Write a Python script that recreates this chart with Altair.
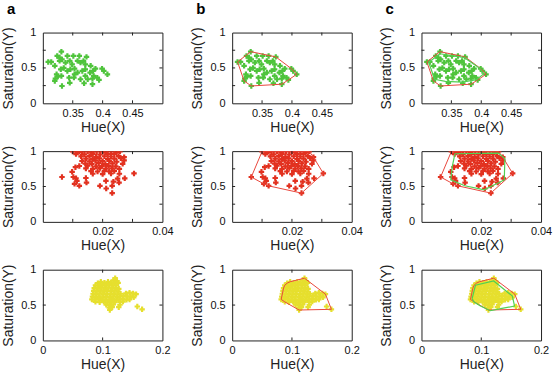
import altair as alt
import pandas as pd

# ---------------- data ----------------
green_hue = [0.331, 0.309, 0.314, 0.320, 0.324, 0.328, 0.328, 0.332, 0.341, 0.351, 0.361, 0.373,
             0.338, 0.345, 0.349, 0.358, 0.363, 0.368, 0.371, 0.380, 0.388, 0.330, 0.335, 0.341,
             0.346, 0.353, 0.358, 0.366, 0.371, 0.379, 0.384, 0.399, 0.402, 0.408, 0.323, 0.325,
             0.320, 0.321, 0.331, 0.332, 0.344, 0.345, 0.352, 0.353, 0.363, 0.369, 0.371, 0.375,
             0.383, 0.385, 0.394, 0.391, 0.383]
green_sat = [0.73, 0.585, 0.585, 0.53, 0.67, 0.646, 0.60, 0.62, 0.67, 0.67, 0.67, 0.656,
             0.575, 0.60, 0.55, 0.60, 0.575, 0.60, 0.55, 0.53, 0.49, 0.48, 0.50, 0.458,
             0.48, 0.49, 0.434, 0.458, 0.48, 0.434, 0.458, 0.49, 0.458, 0.41, 0.41, 0.377,
             0.316, 0.35, 0.387, 0.245, 0.363, 0.29, 0.363, 0.41, 0.34, 0.283, 0.387, 0.34,
             0.35, 0.387, 0.33, 0.363, 0.27]

red_hue = [0.0100, 0.0113, 0.0122, 0.0131, 0.0150, 0.0164, 0.0180, 0.0200, 0.0209, 0.0228, 0.0247, 0.0258,
           0.0111, 0.0139, 0.0167, 0.0191, 0.0217, 0.0239,
           0.0128, 0.0156, 0.0178, 0.0206, 0.0228, 0.0253, 0.0272,
           0.0144, 0.0167, 0.0189, 0.0217, 0.0239, 0.0261,
           0.0131, 0.0156, 0.0176, 0.0200, 0.0222, 0.0247, 0.0272,
           0.0142, 0.0164, 0.0187, 0.0209, 0.0233, 0.0267,
           0.0122, 0.0150, 0.0178, 0.0198, 0.0220, 0.0244,
           0.0144, 0.0167, 0.0191, 0.0211, 0.0231, 0.0256, 0.0109,
           0.0161, 0.0183, 0.0206, 0.0222, 0.0239,
           0.0167, 0.0200, 0.0228, 0.0256, 0.0305, 0.0098,
           0.0064, 0.0102, 0.0274,
           0.0111, 0.0144, 0.0236, 0.0250,
           0.0114, 0.0146, 0.0211, 0.0255,
           0.0106, 0.0122, 0.0191, 0.0232,
           0.0212, 0.0232]
red_sat = [0.995, 0.995, 0.99, 0.995, 0.995, 0.99, 0.995, 0.995, 0.99, 0.995, 0.99, 0.995,
           0.958, 0.955, 0.96, 0.952, 0.958, 0.962,
           0.926, 0.93, 0.92, 0.928, 0.924, 0.93, 0.915,
           0.894, 0.89, 0.898, 0.888, 0.894, 0.9,
           0.86, 0.855, 0.865, 0.858, 0.862, 0.85, 0.87,
           0.824, 0.82, 0.83, 0.818, 0.826, 0.82,
           0.79, 0.795, 0.785, 0.79, 0.792, 0.785,
           0.755, 0.75, 0.76, 0.752, 0.758, 0.75, 0.773,
           0.718, 0.712, 0.722, 0.715, 0.72,
           0.68, 0.676, 0.684, 0.68, 0.685, 0.708,
           0.634, 0.634, 0.616,
           0.616, 0.62, 0.569, 0.612,
           0.579, 0.555, 0.579, 0.556,
           0.537, 0.509, 0.509, 0.509,
           0.472, 0.407]

yellow_hue = [0.121, 0.118, 0.124,
              0.092, 0.097, 0.103, 0.109, 0.114, 0.120, 0.126,
              0.088, 0.094, 0.100, 0.106, 0.111, 0.117, 0.123,
              0.086, 0.092, 0.098, 0.104, 0.110, 0.116, 0.122, 0.127,
              0.085, 0.090, 0.096, 0.102, 0.108, 0.114, 0.120, 0.126,
              0.084, 0.089, 0.095, 0.101, 0.107, 0.113, 0.119, 0.125, 0.130,
              0.139, 0.145, 0.151, 0.156,
              0.083, 0.088, 0.094, 0.100, 0.106, 0.112, 0.118, 0.124, 0.129, 0.135, 0.141, 0.147, 0.152,
              0.082, 0.087, 0.093, 0.099, 0.105, 0.111, 0.117, 0.123, 0.128, 0.134, 0.140, 0.145,
              0.088, 0.095, 0.102, 0.108, 0.114, 0.120, 0.129, 0.134,
              0.106, 0.112, 0.118, 0.129,
              0.111, 0.116, 0.127,
              0.112,
              0.158, 0.166]
yellow_sat = [0.88, 0.85, 0.84,
              0.81, 0.83, 0.815, 0.83, 0.82, 0.81, 0.815,
              0.78, 0.77, 0.785, 0.775, 0.79, 0.775, 0.78,
              0.74, 0.735, 0.745, 0.73, 0.745, 0.735, 0.74, 0.73,
              0.70, 0.695, 0.705, 0.69, 0.70, 0.695, 0.705, 0.69,
              0.66, 0.655, 0.665, 0.65, 0.66, 0.655, 0.665, 0.65, 0.66,
              0.665, 0.675, 0.665, 0.655,
              0.62, 0.615, 0.625, 0.61, 0.62, 0.615, 0.625, 0.61, 0.62, 0.63, 0.62, 0.625, 0.61,
              0.58, 0.575, 0.585, 0.57, 0.58, 0.575, 0.585, 0.57, 0.58, 0.585, 0.575, 0.58,
              0.545, 0.54, 0.55, 0.535, 0.545, 0.54, 0.545, 0.55,
              0.505, 0.50, 0.51, 0.505,
              0.465, 0.47, 0.47,
              0.43,
              0.48, 0.44]

# inner (green) boundaries shown in column c
inner1_hue = [0.312, 0.331, 0.372, 0.398, 0.404, 0.392, 0.368, 0.340, 0.322]
inner1_sat = [0.58, 0.70, 0.645, 0.49, 0.415, 0.335, 0.30, 0.31, 0.34]
inner2_hue = [0.0112, 0.0257, 0.0279, 0.0277, 0.0210, 0.0145, 0.0098, 0.0103]
inner2_sat = [0.963, 0.972, 0.894, 0.593, 0.454, 0.510, 0.593, 0.780]
inner3_hue = [0.0848, 0.0903, 0.1208, 0.140, 0.152, 0.1557, 0.1346, 0.1152, 0.0986, 0.0875]
inner3_sat = [0.593, 0.78, 0.84, 0.71, 0.626, 0.486, 0.453, 0.42, 0.486, 0.547]

x_domains = [[0.3, 0.5], [0.0, 0.04], [0.0, 0.2]]
x_label_vals = [[0.35, 0.4, 0.45], [0.02, 0.04], [0.0, 0.1, 0.2]]
x_tick_vals = [[0.35, 0.4, 0.45], [0.01, 0.02, 0.03], [0.1]]
y_label_vals = [0.0, 0.5, 1.0]
y_tick_vals = [[0.25, 0.5, 0.75], [0.25, 0.5, 0.75], [0.5]]
point_colors = ["#4fc43c", "#e2311f", "#e6df2e"]
letters = ["a", "b", "c"]

W, H = 120, 71
HULL_RED = "#e9473d"
HULL_GREEN = "#52d052"
FONT = "Liberation Sans"


def convex_hull(xs, ys):
    pts = sorted(set(zip(xs, ys)))

    def cross(o, a, b):
        return (a[0] - o[0]) * (b[1] - o[1]) - (a[1] - o[1]) * (b[0] - o[0])

    lower, upper = [], []
    for p in pts:
        while len(lower) >= 2 and cross(lower[-2], lower[-1], p) <= 0:
            lower.pop()
        lower.append(p)
    for p in reversed(pts):
        while len(upper) >= 2 and cross(upper[-2], upper[-1], p) <= 0:
            upper.pop()
        upper.append(p)
    return lower[:-1] + upper[:-1]


def ring_df(verts):
    verts = list(verts) + [verts[0]]
    return pd.DataFrame({"h": [v[0] for v in verts], "s": [v[1] for v in verts],
                         "i": list(range(len(verts)))})


series = [(green_hue, green_sat), (red_hue, red_sat), (yellow_hue, yellow_sat)]
inners = [(inner1_hue, inner1_sat), (inner2_hue, inner2_sat), (inner3_hue, inner3_sat)]


def panel(r, c):
    hx, sy = series[r]

    def xe(field):
        return alt.X(field, scale=alt.Scale(domain=x_domains[r], nice=False, zero=False),
                     title="Hue(X)", axis=alt.Axis(values=x_label_vals[r], format="~g"))

    def ye(field):
        return alt.Y(field, scale=alt.Scale(domain=[0, 1], nice=False, zero=False),
                     title="Saturation(Y)", axis=alt.Axis(values=y_label_vals, format="~g"))

    pts = pd.DataFrame({"h": hx, "s": sy})
    points = alt.Chart(pts).mark_point(shape="cross", filled=True, size=30, opacity=1,
                                       color=point_colors[r], clip=True).encode(
        x=xe("h:Q"), y=ye("s:Q"))
    layers = [points]

    if c >= 1:
        hull = ring_df(convex_hull(hx, sy))
        layers.append(alt.Chart(hull).mark_line(color=HULL_RED, strokeWidth=1, clip=True).encode(
            x=xe("h:Q"), y=ye("s:Q"), order="i:Q"))
    if c == 2:
        ih, isat = inners[r]
        inner = ring_df(list(zip(ih, isat)))
        layers.append(alt.Chart(inner).mark_line(color=HULL_GREEN, strokeWidth=1.2, clip=True).encode(
            x=xe("h:Q"), y=ye("s:Q"), order="i:Q"))

    # inward tick marks on all four sides
    xt = pd.DataFrame({"h": x_tick_vals[r]})
    yt = pd.DataFrame({"s": y_tick_vals[r]})
    for y1, y2 in [(H, H - 3), (0, 3)]:
        layers.append(alt.Chart(xt).mark_rule(color="#222", strokeWidth=1).encode(
            x=xe("h:Q"), y=alt.value(y1), y2=alt.value(y2)))
    for x1, x2 in [(0, 3), (W, W - 3)]:
        layers.append(alt.Chart(yt).mark_rule(color="#222", strokeWidth=1).encode(
            y=ye("s:Q"), x=alt.value(x1), x2=alt.value(x2)))

    if r == 0:
        layers.append(alt.Chart(pd.DataFrame({"L": [letters[c]]})).mark_text(
            font=FONT, fontSize=15, fontWeight="bold", color="#000",
            align="left", baseline="alphabetic").encode(
            text="L:N", x=alt.value(-36), y=alt.value(-19)))

    return alt.layer(*layers).properties(width=W, height=H)


panels = [panel(r, c) for r in range(3) for c in range(3)]

chart = alt.concat(*panels, columns=3, spacing={"row": 48, "column": 70}, bounds="flush").configure(
    padding={"left": 0, "top": 0, "right": 0, "bottom": 0},
    background="white",
).configure_view(
    stroke="#222", strokeWidth=1
).configure_axis(
    grid=False, ticks=False, tickSize=0, domain=False,
    labelFont=FONT, labelFontSize=11, labelColor="#111",
    titleFont=FONT, titleFontSize=14, titleFontWeight="normal", titleColor="#222",
    labelFlush=False, labelOverlap=False, labelBound=False,
).configure_axisX(
    labelPadding=4, titlePadding=2
).configure_axisY(
    labelPadding=7, titlePadding=5.5
)

chart.save("out.html", embed_options={"renderer": "svg", "actions": False})
